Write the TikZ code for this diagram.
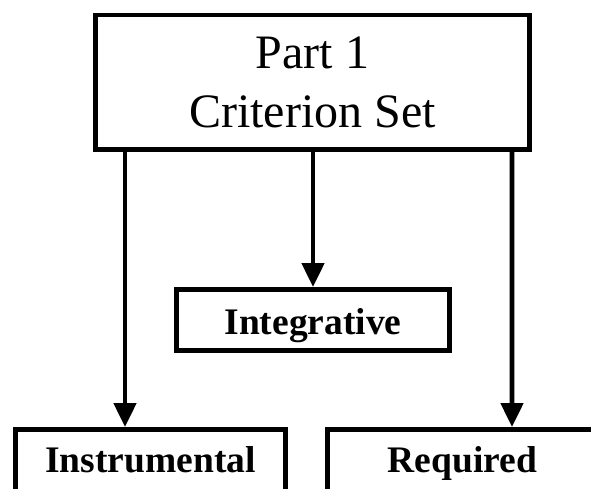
\documentclass[tikz,border=0pt]{standalone}
\usepackage{fontspec}
\setmainfont{Liberation Serif}
\usetikzlibrary{arrows.meta}
\begin{document}
\begin{tikzpicture}[x=1pt,y=-1pt,
  box/.style={draw=black, line width=4.8pt, fill=white, inner sep=0pt},
  flow/.style={draw=black, line width=4.8pt, -{Triangle[width=22pt,length=24pt]}},
  big/.style={font=\fontsize{48}{59}\selectfont, align=center},
  small/.style={font=\fontsize{37.5}{44}\selectfont\bfseries}
]
\useasboundingbox[fill=white] (0,0) rectangle (591,488);
\node[box, big, minimum width=434.2pt, minimum height=134.2pt] (top) at (312.5,82) {Part 1\\Criterion Set};
\node[box, small, anchor=base, minimum width=273.2pt, text height=44.6pt, text depth=16.6pt] (integ) at (313,334) {Integrative};
\node[box, small, anchor=base, minimum width=270.2pt, text height=42.6pt, text depth=48pt] (instr) at (150.5,472) {Instrumental};
\node[box, small, anchor=base, minimum width=270.2pt, text height=42.6pt, text depth=48pt] (req) at (462.5,472) {Required};
\draw[flow] ([xshift=32pt]top.south west) -- ([xshift=112pt]instr.north west);
\draw[flow] (top.south -| integ.north) -- (integ.north);
\draw[flow] ([xshift=-20pt]top.south east) -- ([xshift=187pt]req.north west);
\end{tikzpicture}
\end{document}
